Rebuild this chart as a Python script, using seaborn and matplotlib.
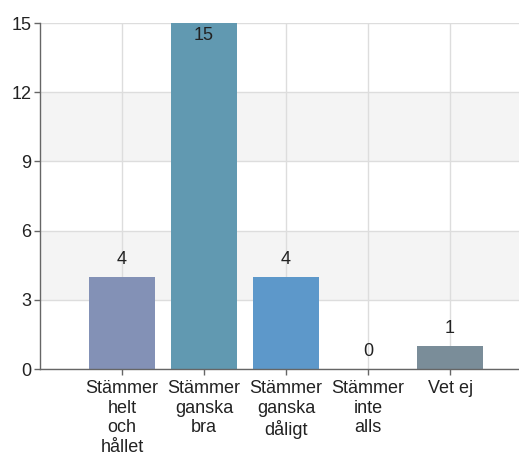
import matplotlib
matplotlib.use("Agg")
import matplotlib.pyplot as plt
import seaborn as sns
import pandas as pd

categories = ["Stämmer\nhelt\noch\nhållet", "Stämmer\nganska\nbra", "Stämmer\nganska\ndåligt", "Stämmer\ninte\nalls", "Vet ej"]
values = [4, 15, 4, 0, 1]
colors = ["#8391b6", "#6199b1", "#5d98ca", "#7d96c6", "#7a8d99"]
yticks = [0, 3, 6, 9, 12, 15]

sns.set_theme(style="white")
plt.rcParams["font.family"] = ["Liberation Sans", "DejaVu Sans"]

df = pd.DataFrame({"cat": categories, "val": values})

fig = plt.figure(figsize=(5.19, 4.54), dpi=100)
ax = fig.add_axes([40/519, (454-369)/454, (519-40)/519, (369-23)/454])

# alternating bands
for lo in (3, 9):
    ax.axhspan(lo, lo + 3, color="#f4f4f4", zorder=0, lw=0)
for y in yticks:
    ax.axhline(y, color="#dddddd", lw=1, zorder=0.5)
for i in range(len(categories)):
    ax.axvline(i, color="#dddddd", lw=1, zorder=0.5)

sns.barplot(data=df, x="cat", y="val", hue="cat", palette=colors, legend=False,
            width=0.8, ax=ax, zorder=2, saturation=1, linewidth=0)

ax.set_xlim(-1, 4.84)
ax.set_ylim(0, 15)
ax.set_yticks(yticks)
ax.set_xlabel("")
ax.set_ylabel("")

for i, v in enumerate(values):
    if v >= 14:
        ax.text(i, v - 0.55, str(v), ha="center", va="center", fontsize=13, color="#222222", zorder=3)
    else:
        ax.text(i, v + 0.75, str(v), ha="center", va="center", fontsize=13, color="#222222", zorder=3)

for s in ["top", "right"]:
    ax.spines[s].set_visible(False)
for s in ["left", "bottom"]:
    ax.spines[s].set_color("#666666")
    ax.spines[s].set_linewidth(1)
    ax.spines[s].set_zorder(4)

ax.tick_params(axis="both", which="both", direction="out", length=4, width=1, color="#666666",
               labelsize=13, labelcolor="#222222", bottom=True, left=True, pad=2)
ax.tick_params(axis="x", pad=4)
for lab in ax.get_xticklabels():
    lab.set_linespacing(1.2)

fig.savefig("out.png", dpi=100)
